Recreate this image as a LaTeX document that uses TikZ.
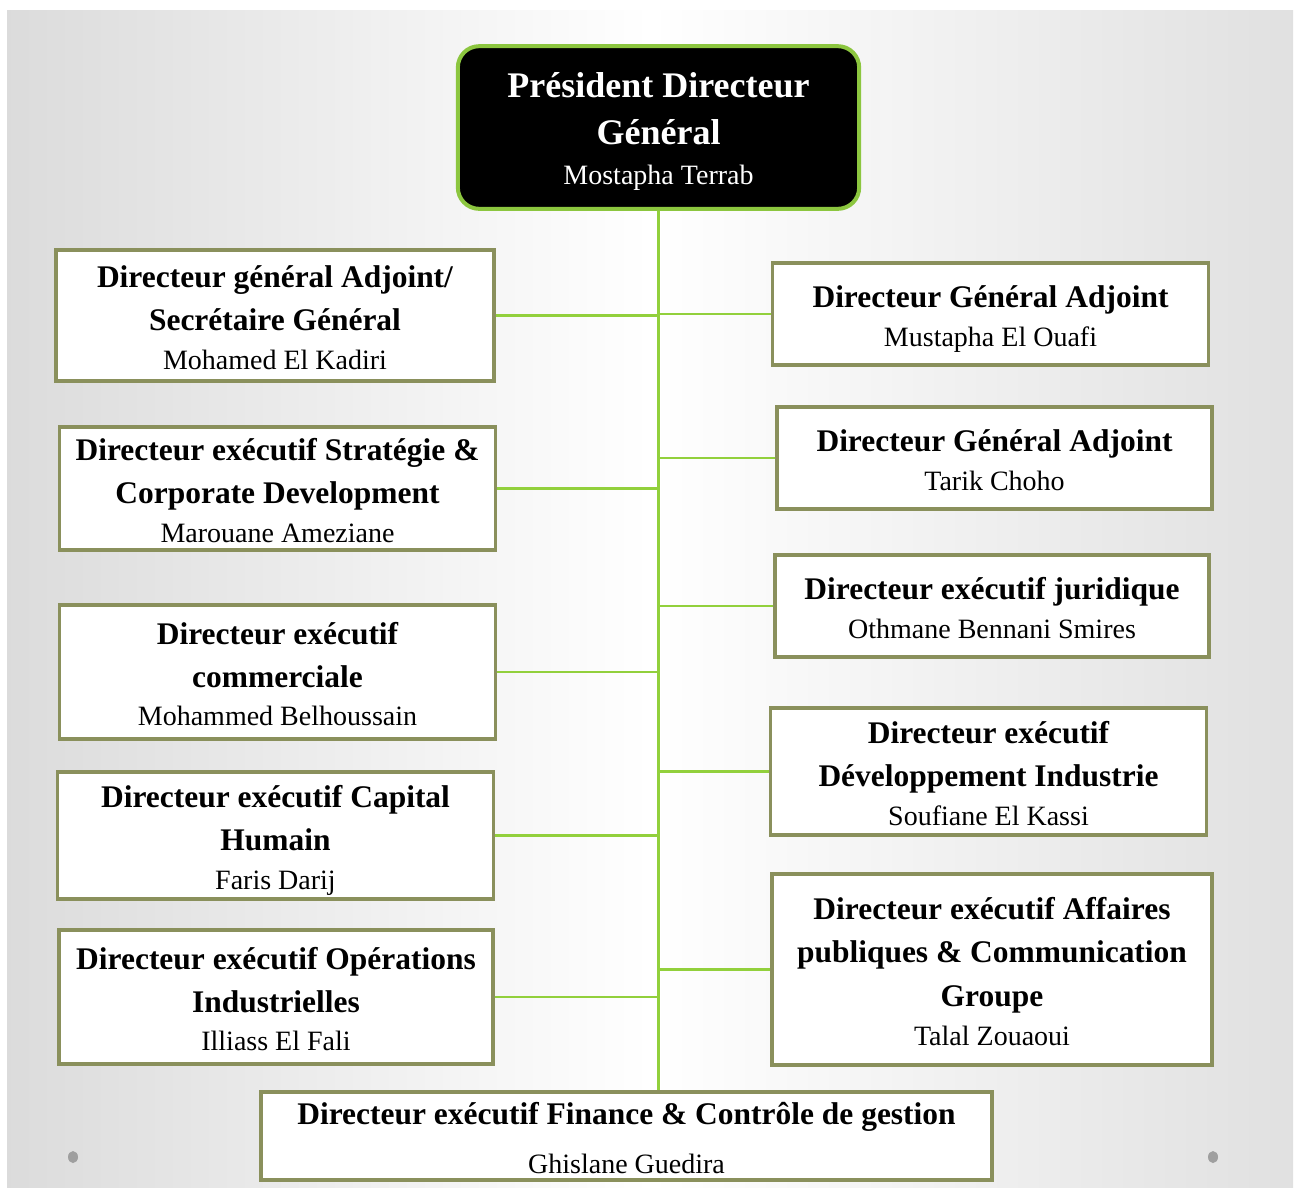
\documentclass[tikz,border=0pt]{standalone}
\usepackage{fontspec}
\setmainfont{Liberation Serif}
\definecolor{boxline}{RGB}{138,144,92}
\definecolor{conn}{RGB}{146,208,60}
\definecolor{topline}{RGB}{140,198,63}
\newcommand{\nm}[1]{{\fontsize{21}{29}\selectfont #1}}
\newcommand{\bxt}[1]{\raisebox{-4pt}[\height][\depth]{\begin{tabular}{@{}c@{}}#1\end{tabular}}}
\begin{document}
\begin{tikzpicture}[x=0.75pt,y=-0.75pt,
  orgbox/.style={draw=boxline, line width=2.8pt, fill=white, inner sep=0pt, font=\fontsize{23.6}{29}\selectfont},
  topbox/.style={draw=topline, line width=3pt, fill=black, rounded corners=16pt, inner sep=0pt, text=white, font=\fontsize{27}{30}\selectfont},
  link/.style={draw=conn, line width=1.8pt},
  dot/.style={fill=gray!75}]
\useasboundingbox (0,0) rectangle (1296,1193);
\shade[left color=gray!28, right color=gray!24, middle color=white] (7,10) rectangle (1293,1187);

\node[topbox, minimum width=301pt, minimum height=122pt] (top) at (658.5,127.5)
  {\bxt{\bfseries Président Directeur\\[5pt] \bfseries Général\\ \nm{Mostapha Terrab}}};

\node[orgbox, minimum width=328pt, minimum height=98pt] (l1) at (275,315.5)
  {\bxt{\bfseries Directeur général Adjoint/\\[3pt] \bfseries Secrétaire Général\\ \nm{Mohamed El Kadiri}}};
\node[orgbox, minimum width=327pt, minimum height=92pt] (l2) at (277.5,488.5)
  {\bxt{\bfseries Directeur exécutif Stratégie \&\\[3pt] \bfseries Corporate Development\\ \nm{Marouane Ameziane}}};
\node[orgbox, minimum width=327pt, minimum height=100pt] (l3) at (277.5,672)
  {\bxt{\bfseries Directeur exécutif\\[3pt] \bfseries commerciale\\ \nm{Mohammed Belhoussain}}};
\node[orgbox, minimum width=327pt, minimum height=95pt] (l4) at (275.5,835.5)
  {\bxt{\bfseries Directeur exécutif Capital\\[3pt] \bfseries Humain\\ \nm{Faris Darij}}};
\node[orgbox, minimum width=325pt, minimum height=101pt] (l5) at (276,997)
  {\bxt{\bfseries Directeur exécutif Opérations\\[3pt] \bfseries Industrielles\\ \nm{Illiass El Fali}}};

\node[orgbox, minimum width=327pt, minimum height=76pt] (r1) at (990.5,314)
  {\bxt{\bfseries Directeur Général Adjoint\\ \nm{Mustapha El Ouafi}}};
\node[orgbox, minimum width=326pt, minimum height=76pt] (r2) at (994.5,458)
  {\bxt{\bfseries Directeur Général Adjoint\\ \nm{Tarik Choho}}};
\node[orgbox, minimum width=326pt, minimum height=76pt] (r3) at (992,606)
  {\bxt{\bfseries Directeur exécutif juridique\\ \nm{Othmane Bennani Smires}}};
\node[orgbox, minimum width=327pt, minimum height=95pt] (r4) at (988.5,771.5)
  {\bxt{\bfseries Directeur exécutif\\[3pt] \bfseries Développement Industrie\\ \nm{Soufiane El Kassi}}};
\node[orgbox, minimum width=330pt, minimum height=143pt] (r5) at (992,969.5)
  {\bxt{\bfseries Directeur exécutif Affaires\\[3pt] \bfseries publiques \& Communication\\[4pt] \bfseries Groupe\\ \nm{Talal Zouaoui}}};

\node[orgbox, minimum width=548pt, minimum height=64pt] (fin) at (626.5,1136)
  {\bxt{\bfseries Directeur exécutif Finance \& Contrôle de gestion\\[8pt] \nm{Ghislane Guedira}}};

\draw[link] (top.south) -- (top.south |- fin.north);
\foreach \n in {l1,l2,l3,l4,l5} \draw[link] (\n.east) -- (\n.east -| top.south);
\foreach \n in {r1,r2,r3,r4,r5} \draw[link] (\n.west) -- (\n.west -| top.south);

\fill[dot] (73,1157) ellipse [x radius=5, y radius=6];
\fill[dot] (1213,1157) ellipse [x radius=5, y radius=6];
\end{tikzpicture}
\end{document}
